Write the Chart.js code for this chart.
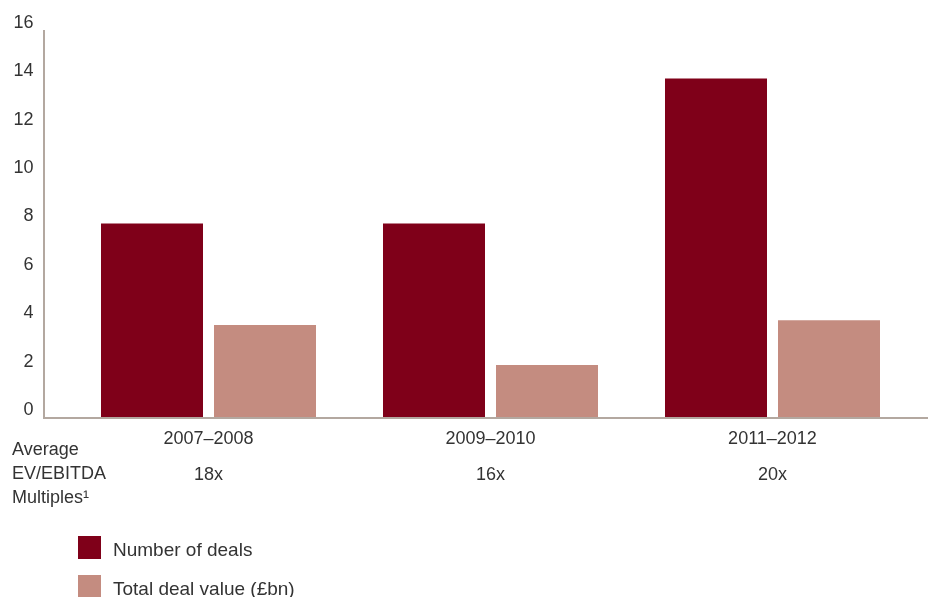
<!DOCTYPE html>
<html>
<head>
<meta charset="utf-8">
<script src="https://cdn.jsdelivr.net/npm/chart.js@4"></script>
<style>
  html, body { margin: 0; padding: 0; background: #fff; }
  #wrap { width: 928px; height: 597px; position: relative; }
</style>
</head>
<body>
<div id="wrap"><canvas id="dealsChart"></canvas></div>
<script>
// --- data ---
const periods = ['2007–2008', '2009–2010', '2011–2012'];
const multiples = ['18x', '16x', '20x'];
const numberOfDeals = [8, 8, 14];
const totalDealValue = [3.8, 2.15, 4.0];
const yTicks = [0, 2, 4, 6, 8, 10, 12, 14, 16];

const DARK = '#7f0019';
const LIGHT = '#c48c80';
const AXIS = '#b3a8a0';
const TEXT = '#333333';
const FONT = "'Liberation Sans', Arial, Helvetica, sans-serif";

// axis lines + side label + legend, drawn after the chart
const extrasPlugin = {
    id: 'extras',
    afterDraw(chart) {
        const ctx = chart.ctx;
        const y0 = chart.scales.y.getPixelForValue(0);
        const yTop = chart.scales.y.getPixelForValue(16);

        ctx.save();
        ctx.strokeStyle = AXIS;
        ctx.lineWidth = 2;
        ctx.beginPath();
        ctx.moveTo(44, yTop);
        ctx.lineTo(44, y0 + 1);
        ctx.moveTo(43, y0 + 1);
        ctx.lineTo(928, y0 + 1);
        ctx.stroke();

        // "Average EV/EBITDA Multiples¹" side label
        ctx.fillStyle = TEXT;
        ctx.font = '18px ' + FONT;
        ctx.textAlign = 'left';
        ctx.textBaseline = 'middle';
        ctx.fillText('Average', 12, 450);
        ctx.fillText('EV/EBITDA', 12, 474);
        ctx.fillText('Multiples¹', 12, 498);

        // legend
        ctx.font = '19px ' + FONT;
        chart.data.datasets.forEach((ds, i) => {
            const top = 536 + i * 39;
            ctx.fillStyle = ds.backgroundColor;
            ctx.fillRect(78, top, 23, 23);
            ctx.fillStyle = TEXT;
            ctx.fillText(ds.label, 113, top + 15);
        });
        ctx.restore();
    }
};

const ctx = document.getElementById('dealsChart');
new Chart(ctx, {
    type: 'bar',
    data: {
        labels: periods.map((p, i) => [p, multiples[i]]),
        datasets: [
            { label: 'Number of deals', data: numberOfDeals, backgroundColor: DARK },
            { label: 'Total deal value (£bn)', data: totalDealValue, backgroundColor: LIGHT }
        ]
    },
    options: {
        responsive: true,
        maintainAspectRatio: false,
        animation: false,
        layout: { padding: { top: 30, right: 14.5, left: 0, bottom: 0 } },
        datasets: {
            bar: { categoryPercentage: 0.8014, barPercentage: 0.9027 }
        },
        scales: {
            x: {
                grid: { display: false, drawTicks: false },
                border: { display: false },
                ticks: {
                    color: TEXT,
                    font: { family: FONT, size: 18, lineHeight: 2.0 },
                    padding: 4,
                    maxRotation: 0
                },
                afterFit(scale) {
                    scale.height = 180;
                    scale.paddingLeft = 0;
                    scale.paddingRight = 0;
                }
            },
            y: {
                min: 0,
                max: 16,
                grid: { display: false, drawTicks: false },
                border: { display: false },
                afterBuildTicks(scale) { scale.ticks = yTicks.map(v => ({ value: v })); },
                ticks: {
                    color: TEXT,
                    font: { family: FONT, size: 18 },
                    padding: 34,
                    labelOffset: -7
                },
                afterFit(scale) {
                    scale.width = 67.5;
                    scale.paddingTop = 0;
                    scale.paddingBottom = 0;
                }
            }
        },
        plugins: {
            legend: { display: false },
            tooltip: { enabled: false }
        }
    },
    plugins: [extrasPlugin]
});
</script>
</body>
</html>
